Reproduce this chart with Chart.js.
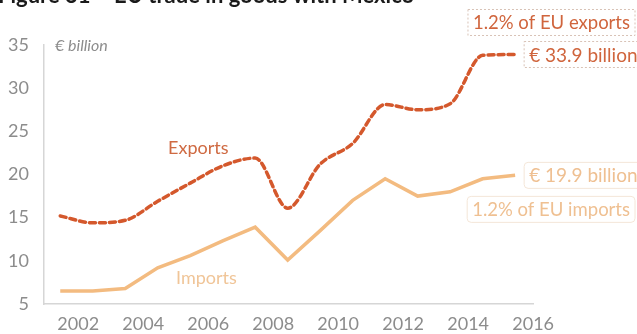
<!DOCTYPE html>
<html>
<head>
<meta charset="utf-8">
<script src="https://cdn.jsdelivr.net/npm/chart.js@4.4.1/dist/chart.umd.min.js"></script>
<style>
  html, body { margin: 0; padding: 0; background: #fff; }
  #wrap { position: relative; width: 637px; height: 334px; }
</style>
</head>
<body>
<div id="wrap"><canvas id="tradeChart"></canvas></div>
<script>
var years = [2002, 2003, 2004, 2005, 2006, 2007, 2008, 2009, 2010, 2011, 2012, 2013, 2014, 2015, 2016];
var exportsBn = [15.2, 14.4, 14.7, 16.9, 19.0, 21.0, 21.9, 16.1, 21.2, 23.6, 28.1, 27.5, 28.2, 33.8, 33.9];
var importsBn = [6.5, 6.5, 6.8, 9.2, 10.6, 12.3, 13.9, 10.1, 13.5, 17.0, 19.5, 17.5, 18.0, 19.5, 19.9];
var tickYears = [2002, 2004, 2006, 2008, 2010, 2012, 2014, 2016];
var exportShare = "1.2% of EU exports";
var importShare = "1.2% of EU imports";

var FONT = "Lato, 'Open Sans', sans-serif";
var exportColor = "#d4582c";
var importColor = "#f3bb80";

function toPoints(values) {
    return values.map((v, i) => ({x: years[i], y: v}));
}

function boxedText(ctx, text, x, yMid, opts) {
    ctx.font = opts.font;
    var w = ctx.measureText(text).width;
    var padX = 5, h = 26;
    var left = opts.align == "right" ? x - w - padX * 2 : x;
    ctx.save();
    ctx.strokeStyle = opts.border;
    ctx.lineWidth = 1;
    ctx.setLineDash(opts.dash || []);
    ctx.beginPath();
    ctx.roundRect(left, yMid - h / 2, w + padX * 2, h, opts.radius || 0);
    ctx.stroke();
    ctx.restore();
    ctx.fillStyle = opts.color;
    ctx.textBaseline = "middle";
    ctx.textAlign = "left";
    ctx.fillText(text, left + padX, yMid + 1);
}

// titles, series names and end-of-line value boxes
var notesPlugin = {
    id: "notes",
    afterDraw(chart) {
        var ctx = chart.ctx;
        var xs = chart.scales.x, ys = chart.scales.y;
        ctx.save();

        ctx.fillStyle = "#1a1a1a";
        ctx.font = "bold 22px " + FONT;
        ctx.textBaseline = "alphabetic";
        ctx.textAlign = "left";
        ctx.fillText("Figure 31 \u2013 EU trade in goods with Mexico", -2, 3);

        ctx.fillStyle = "#8c8c8c";
        ctx.font = "italic 16px " + FONT;
        ctx.textBaseline = "middle";
        ctx.fillText("\u20ac billion", 55, ys.getPixelForValue(35) + 1);

        ctx.textAlign = "center";
        ctx.font = "18px " + FONT;
        ctx.fillStyle = "#cf6a42";
        ctx.fillText("Exports", xs.getPixelForValue(2006.25), ys.getPixelForValue(23.1));
        ctx.fillStyle = "#f0c598";
        ctx.fillText("Imports", xs.getPixelForValue(2006.5), ys.getPixelForValue(8.0));

        var last = years.length - 1;
        var endX = xs.getPixelForValue(years[last]) + 9;
        var expY = ys.getPixelForValue(exportsBn[last]);
        var impY = ys.getPixelForValue(importsBn[last]);
        var big = "19px " + FONT;

        boxedText(ctx, "\u20ac " + exportsBn[last].toFixed(1) + " billion", endX, expY,
            {font: big, color: "#d0653d", border: "#d8c2b6", dash: [2, 2]});
        boxedText(ctx, exportShare, 635, expY - 32,
            {font: "18.5px " + FONT, color: "#d0653d", border: "#d8c2b6", dash: [2, 2], align: "right"});
        boxedText(ctx, "\u20ac " + importsBn[last].toFixed(1) + " billion", endX, impY,
            {font: big, color: "#efc092", border: "#f4e6d8", radius: 4});
        boxedText(ctx, importShare, 635, impY + 34,
            {font: "18.5px " + FONT, color: "#efc092", border: "#f4e6d8", radius: 4, align: "right"});

        ctx.restore();
    }
};

new Chart(document.getElementById("tradeChart"), {
    type: "line",
    data: {
        datasets: [{
            label: "Exports",
            data: toPoints(exportsBn),
            borderColor: exportColor,
            borderWidth: 3.5,
            borderDash: [6, 4],
            borderCapStyle: "round",
            cubicInterpolationMode: "monotone",
            pointRadius: 0
        }, {
            label: "Imports",
            data: toPoints(importsBn),
            borderColor: importColor,
            borderWidth: 3.5,
            tension: 0,
            pointRadius: 0
        }]
    },
    options: {
        responsive: true,
        maintainAspectRatio: false,
        animation: false,
        layout: {padding: {left: 0, right: 104, top: 45, bottom: 0}},
        plugins: {legend: {display: false}, tooltip: {enabled: false}},
        scales: {
            x: {
                type: "linear",
                min: 2001.5,
                max: 2016.55,
                grid: {display: false},
                border: {display: true, color: "#d6d6d6", width: 1.5},
                afterBuildTicks: (scale) => {
                    scale.ticks = tickYears.map((v) => ({value: v}));
                },
                afterFit: (scale) => { scale.height = 30; },
                ticks: {
                    autoSkip: false,
                    maxRotation: 0,
                    labelOffset: 18,
                    padding: 1,
                    color: "#8c8c8c",
                    font: {family: FONT, size: 18},
                    callback: (v) => String(v)
                }
            },
            y: {
                min: 5,
                max: 35,
                grid: {display: false},
                border: {display: true, color: "#d6d6d6", width: 1.5},
                afterFit: (scale) => { scale.width = 44; },
                ticks: {
                    stepSize: 5,
                    padding: 7,
                    color: "#8c8c8c",
                    font: {family: FONT, size: 18}
                }
            }
        }
    },
    plugins: [notesPlugin]
});
</script>
</body>
</html>
